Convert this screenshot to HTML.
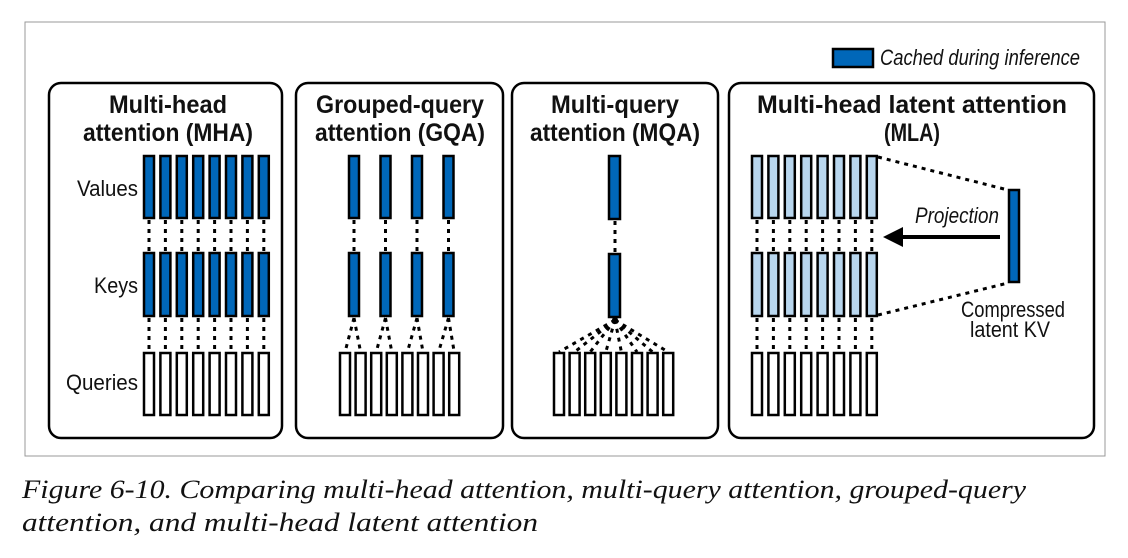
<!DOCTYPE html>
<html><head><meta charset="utf-8"><style>
html,body{margin:0;padding:0;background:#fff}
svg{display:block}
.t{font-family:"Liberation Sans",sans-serif;font-size:25px;font-weight:bold;fill:#111}
.l{font-family:"Liberation Sans",sans-serif;font-size:22px;fill:#111}
.cap{font-family:"Liberation Serif",serif;font-style:italic;font-size:26px;fill:#111}
.v{fill:#0067b9;stroke:#000;stroke-width:2.5}
.lb{fill:#b8d6ee;stroke:#000;stroke-width:2.5}
.q{fill:#fff;stroke:#000;stroke-width:2.5}
.d{stroke:#000;stroke-width:3;stroke-dasharray:4 5;fill:none}
.p{fill:none;stroke:#000;stroke-width:2.5}
</style></head><body>
<svg width="1128" height="558" viewBox="0 0 1128 558" xmlns="http://www.w3.org/2000/svg">
<rect x="25" y="22" width="1080" height="434" fill="#fff" stroke="#999" stroke-width="1"/>
<rect x="833" y="49" width="40" height="18" class="v" stroke-width="2"/>
<text x="880" y="65" class="l" font-size="20" font-style="italic" textLength="200" lengthAdjust="spacingAndGlyphs">Cached during inference</text>

<rect x="49" y="83" width="233" height="355" rx="12" class="p"/>
<rect x="296" y="83" width="207" height="355" rx="12" class="p"/>
<rect x="512" y="83" width="206" height="355" rx="12" class="p"/>
<rect x="729" y="83" width="365" height="355" rx="12" class="p"/>

<g class="t" text-anchor="middle">
<text x="168" y="113" textLength="118" lengthAdjust="spacingAndGlyphs">Multi-head</text>
<text x="168" y="141" textLength="170" lengthAdjust="spacingAndGlyphs">attention (MHA)</text>
<text x="400" y="113" textLength="168" lengthAdjust="spacingAndGlyphs">Grouped-query</text>
<text x="400" y="141" textLength="170" lengthAdjust="spacingAndGlyphs">attention (GQA)</text>
<text x="615" y="113" textLength="128" lengthAdjust="spacingAndGlyphs">Multi-query</text>
<text x="615" y="141" textLength="170" lengthAdjust="spacingAndGlyphs">attention (MQA)</text>
<text x="912" y="113" textLength="310" lengthAdjust="spacingAndGlyphs">Multi-head latent attention</text>
<text x="912" y="141" textLength="56" lengthAdjust="spacingAndGlyphs">(MLA)</text>
</g>
<g class="l" text-anchor="end">
<text x="138" y="196" textLength="61" lengthAdjust="spacingAndGlyphs">Values</text>
<text x="138" y="293" textLength="44" lengthAdjust="spacingAndGlyphs">Keys</text>
<text x="138" y="390" textLength="72" lengthAdjust="spacingAndGlyphs">Queries</text>
</g>

<!-- MHA -->
<g>
<path class="d" d="M149 220V252M165.4 220V252M181.8 220V252M198.2 220V252M214.6 220V252M231 220V252M247.4 220V252M263.8 220V252"/>
<path class="d" d="M149 318V352M165.4 318V352M181.8 318V352M198.2 318V352M214.6 318V352M231 318V352M247.4 318V352M263.8 318V352"/>
<rect class="v" x="144" y="156" width="10" height="62"/><rect class="v" x="160.4" y="156" width="10" height="62"/><rect class="v" x="176.8" y="156" width="10" height="62"/><rect class="v" x="193.2" y="156" width="10" height="62"/><rect class="v" x="209.6" y="156" width="10" height="62"/><rect class="v" x="226" y="156" width="10" height="62"/><rect class="v" x="242.4" y="156" width="10" height="62"/><rect class="v" x="258.8" y="156" width="10" height="62"/>
<rect class="v" x="144" y="253" width="10" height="63"/><rect class="v" x="160.4" y="253" width="10" height="63"/><rect class="v" x="176.8" y="253" width="10" height="63"/><rect class="v" x="193.2" y="253" width="10" height="63"/><rect class="v" x="209.6" y="253" width="10" height="63"/><rect class="v" x="226" y="253" width="10" height="63"/><rect class="v" x="242.4" y="253" width="10" height="63"/><rect class="v" x="258.8" y="253" width="10" height="63"/>
<rect class="q" x="144" y="353" width="10" height="62"/><rect class="q" x="160.4" y="353" width="10" height="62"/><rect class="q" x="176.8" y="353" width="10" height="62"/><rect class="q" x="193.2" y="353" width="10" height="62"/><rect class="q" x="209.6" y="353" width="10" height="62"/><rect class="q" x="226" y="353" width="10" height="62"/><rect class="q" x="242.4" y="353" width="10" height="62"/><rect class="q" x="258.8" y="353" width="10" height="62"/>
</g>

<!-- GQA -->
<g>
<path class="d" d="M354 220V252M385.5 220V252M417 220V252M448.5 220V252"/>
<path class="d" d="M354 318L345 352M354 318L360.6 352M385.5 318L376.2 352M385.5 318L391.8 352M417 318L407.4 352M417 318L423 352M448.5 318L438.6 352M448.5 318L454.2 352"/>
<rect class="v" x="349" y="156" width="10" height="62"/><rect class="v" x="380.5" y="156" width="10" height="62"/><rect class="v" x="412" y="156" width="10" height="62"/><rect class="v" x="443.5" y="156" width="10" height="62"/>
<rect class="v" x="349" y="253" width="10" height="63"/><rect class="v" x="380.5" y="253" width="10" height="63"/><rect class="v" x="412" y="253" width="10" height="63"/><rect class="v" x="443.5" y="253" width="10" height="63"/>
<rect class="q" x="340" y="353" width="10" height="62"/><rect class="q" x="355.6" y="353" width="10" height="62"/><rect class="q" x="371.2" y="353" width="10" height="62"/><rect class="q" x="386.8" y="353" width="10" height="62"/><rect class="q" x="402.4" y="353" width="10" height="62"/><rect class="q" x="418" y="353" width="10" height="62"/><rect class="q" x="433.6" y="353" width="10" height="62"/><rect class="q" x="449.2" y="353" width="10" height="62"/>
</g>

<!-- MQA -->
<g>
<path class="d" d="M615 221V252"/>
<path class="d" d="M615 320L559 352M615 320L574.6 352M615 320L590.2 352M615 320L605.8 352M615 320L621.4 352M615 320L637 352M615 320L652.6 352M615 320L668.2 352"/>
<circle cx="615" cy="320" r="3"/>
<rect class="v" x="609" y="156" width="11" height="63"/>
<rect class="v" x="609" y="254" width="11" height="63"/>
<rect class="q" x="554" y="353" width="10" height="62"/><rect class="q" x="569.6" y="353" width="10" height="62"/><rect class="q" x="585.2" y="353" width="10" height="62"/><rect class="q" x="600.8" y="353" width="10" height="62"/><rect class="q" x="616.4" y="353" width="10" height="62"/><rect class="q" x="632" y="353" width="10" height="62"/><rect class="q" x="647.6" y="353" width="10" height="62"/><rect class="q" x="663.2" y="353" width="10" height="62"/>
</g>

<!-- MLA -->
<g>
<path class="d" d="M757 220V252M773.4 220V252M789.8 220V252M806.2 220V252M822.6 220V252M839 220V252M855.4 220V252M871.8 220V252"/>
<path class="d" d="M757 318V352M773.4 318V352M789.8 318V352M806.2 318V352M822.6 318V352M839 318V352M855.4 318V352M871.8 318V352"/>
<path class="d" d="M878 157L1008 190M878 315L1008 283"/>
<rect class="lb" x="752" y="156" width="10" height="62"/><rect class="lb" x="768.4" y="156" width="10" height="62"/><rect class="lb" x="784.8" y="156" width="10" height="62"/><rect class="lb" x="801.2" y="156" width="10" height="62"/><rect class="lb" x="817.6" y="156" width="10" height="62"/><rect class="lb" x="834" y="156" width="10" height="62"/><rect class="lb" x="850.4" y="156" width="10" height="62"/><rect class="lb" x="866.8" y="156" width="10" height="62"/>
<rect class="lb" x="752" y="253" width="10" height="63"/><rect class="lb" x="768.4" y="253" width="10" height="63"/><rect class="lb" x="784.8" y="253" width="10" height="63"/><rect class="lb" x="801.2" y="253" width="10" height="63"/><rect class="lb" x="817.6" y="253" width="10" height="63"/><rect class="lb" x="834" y="253" width="10" height="63"/><rect class="lb" x="850.4" y="253" width="10" height="63"/><rect class="lb" x="866.8" y="253" width="10" height="63"/>
<rect class="q" x="752" y="353" width="10" height="62"/><rect class="q" x="768.4" y="353" width="10" height="62"/><rect class="q" x="784.8" y="353" width="10" height="62"/><rect class="q" x="801.2" y="353" width="10" height="62"/><rect class="q" x="817.6" y="353" width="10" height="62"/><rect class="q" x="834" y="353" width="10" height="62"/><rect class="q" x="850.4" y="353" width="10" height="62"/><rect class="q" x="866.8" y="353" width="10" height="62"/>
<rect class="v" x="1009" y="190" width="10" height="92"/>
<line x1="900" y1="237" x2="1000" y2="237" stroke="#000" stroke-width="4"/>
<polygon points="883,237 903,227 903,247" fill="#000"/>
<text x="957" y="223" class="l" font-style="italic" text-anchor="middle" textLength="84" lengthAdjust="spacingAndGlyphs">Projection</text>
<text x="1013" y="317" class="l" text-anchor="middle" textLength="104" lengthAdjust="spacingAndGlyphs">Compressed</text>
<text x="1010" y="337" class="l" text-anchor="middle" textLength="80" lengthAdjust="spacingAndGlyphs">latent KV</text>
</g>

<text x="22" y="498" class="cap" textLength="1004" lengthAdjust="spacingAndGlyphs">Figure 6-10. Comparing multi-head attention, multi-query attention, grouped-query</text>
<text x="22" y="531" class="cap" textLength="516" lengthAdjust="spacingAndGlyphs">attention, and multi-head latent attention</text>
</svg>
</body></html>
